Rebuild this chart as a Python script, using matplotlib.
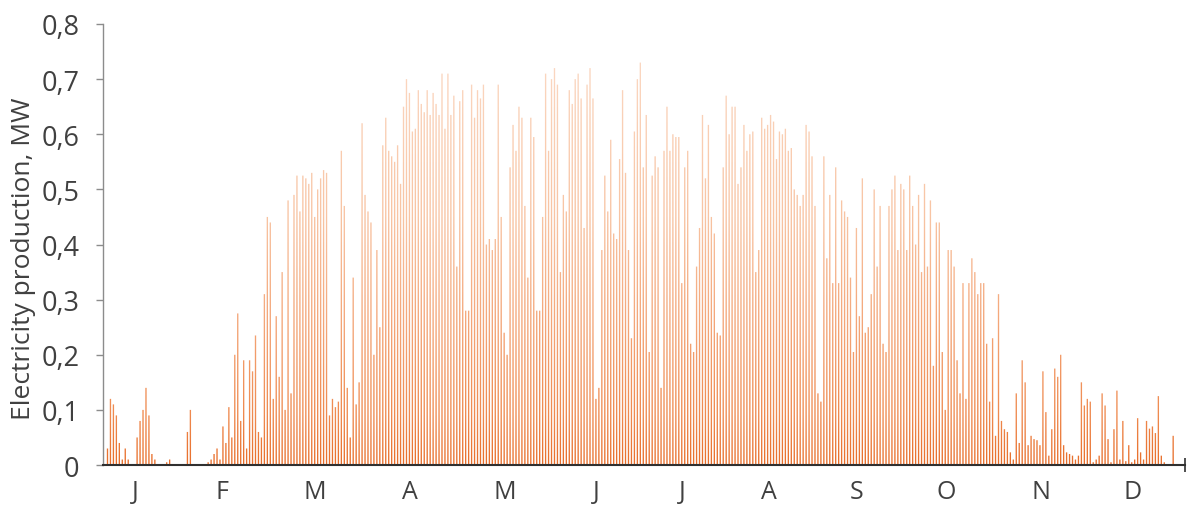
import matplotlib
matplotlib.use("Agg")
import matplotlib.pyplot as plt
import numpy as np
from matplotlib.path import Path
from matplotlib.colors import LinearSegmentedColormap

plt.rcParams['font.family'] = ['Open Sans', 'DejaVu Sans']

# daily peak production (MW), Jan 1 -> Dec 31
jan = [0.0, 0.03, 0.12, 0.11, 0.09, 0.04, 0.01, 0.03, 0.01, 0.0, 0.0, 0.05, 0.08, 0.10, 0.14, 0.09,
       0.02, 0.01, 0.0, 0.0, 0.0, 0.005, 0.01, 0.0, 0.0, 0.0, 0.0, 0.0, 0.06, 0.10, 0.0]
feb = [0.0, 0.0, 0.0, 0.0, 0.005, 0.01, 0.02, 0.03, 0.01, 0.07, 0.04, 0.105, 0.05, 0.2, 0.275, 0.08,
       0.19, 0.03, 0.19, 0.17, 0.235, 0.06, 0.05, 0.31, 0.45, 0.44, 0.12, 0.27, 0.16, 0.35, 0.1, 0.48]
mar = [0.13, 0.49, 0.525, 0.46, 0.525, 0.52, 0.51, 0.53, 0.45, 0.50, 0.52, 0.535, 0.53, 0.09, 0.12, 0.105,
       0.115, 0.57, 0.47, 0.14, 0.05, 0.34, 0.11, 0.15, 0.62, 0.49, 0.46, 0.44, 0.2, 0.39, 0.25, 0.58]
apr = [0.63, 0.57, 0.56, 0.55, 0.58, 0.51, 0.65, 0.70, 0.675, 0.605, 0.61, 0.68, 0.655, 0.64, 0.68, 0.635,
       0.675, 0.655, 0.635, 0.71, 0.61, 0.71, 0.635, 0.67, 0.36, 0.66, 0.68, 0.28, 0.28, 0.69, 0.63, 0.68]
may = [0.665, 0.69, 0.40, 0.41, 0.39, 0.41, 0.69, 0.45, 0.24, 0.2, 0.54, 0.617, 0.57, 0.65, 0.63, 0.47,
       0.34, 0.63, 0.595, 0.28, 0.28, 0.45, 0.71, 0.57, 0.70, 0.72, 0.69, 0.35, 0.49, 0.46, 0.68, 0.655]
jun = [0.70, 0.71, 0.665, 0.43, 0.69, 0.72, 0.665, 0.12, 0.14, 0.39, 0.525, 0.46, 0.59, 0.42, 0.41, 0.555,
       0.68, 0.53, 0.39, 0.23, 0.605, 0.70, 0.73, 0.54, 0.635, 0.205, 0.525, 0.56, 0.54, 0.14, 0.57, 0.65]
jul = [0.57, 0.60, 0.595, 0.595, 0.33, 0.54, 0.57, 0.22, 0.205, 0.36, 0.43, 0.635, 0.52, 0.617, 0.45, 0.42,
       0.24, 0.235, 0.54, 0.67, 0.60, 0.65, 0.65, 0.51, 0.54, 0.617, 0.57, 0.60, 0.605, 0.35, 0.39, 0.63]
aug = [0.61, 0.617, 0.635, 0.623, 0.555, 0.605, 0.60, 0.61, 0.57, 0.575, 0.50, 0.49, 0.47, 0.49, 0.617, 0.605,
       0.56, 0.47, 0.13, 0.115, 0.56, 0.375, 0.49, 0.33, 0.54, 0.33, 0.48, 0.46, 0.45, 0.34, 0.205, 0.43]
sep = [0.27, 0.52, 0.24, 0.25, 0.31, 0.50, 0.36, 0.47, 0.22, 0.205, 0.47, 0.50, 0.525, 0.39, 0.51, 0.50,
       0.39, 0.525, 0.47, 0.40, 0.49, 0.35, 0.51, 0.36, 0.48, 0.18, 0.44, 0.44, 0.205, 0.10, 0.39, 0.39]
octo = [0.36, 0.19, 0.13, 0.33, 0.12, 0.33, 0.375, 0.35, 0.31, 0.33, 0.33, 0.22, 0.115, 0.23, 0.053, 0.31,
        0.08, 0.065, 0.06, 0.023, 0.01, 0.13, 0.04, 0.19, 0.15, 0.036, 0.053, 0.047, 0.045, 0.036, 0.17, 0.096]
novdec = [0.017, 0.065, 0.175, 0.16, 0.20, 0.036, 0.023, 0.02, 0.017, 0.01, 0.017, 0.15, 0.108, 0.12, 0.115,
          0.005, 0.01, 0.017, 0.13, 0.108, 0.047, 0.005, 0.065, 0.135, 0.01, 0.08, 0.007, 0.036, 0.005, 0.01,
          0.085, 0.023, 0.01, 0.08, 0.066, 0.07, 0.058, 0.125, 0.017, 0.005, 0.0, 0.0, 0.053, 0.0, 0.0, 0.0]

peaks = np.array(jan + feb + mar + apr + may + jun + jul + aug + sep + octo + novdec)
days = np.arange(len(peaks))

month_labels = ['J', 'F', 'M', 'A', 'M', 'J', 'J', 'A', 'S', 'O', 'N', 'D']
month_pos = [10.8, 40.1, 71.5, 103.5, 135.6, 166.6, 195.6, 225.0, 254.6, 284.9, 316.9, 347.9]
y_ticks = [0, 0.1, 0.2, 0.3, 0.4, 0.5, 0.6, 0.7, 0.8]

fig = plt.figure(figsize=(11.9, 5.06), dpi=100)
ax = fig.add_axes([0.0866, 0.079, 0.9092, 0.8716])

xmax = 365.5
bars = ax.bar(days + 0.5, peaks, width=0.45, color='none', linewidth=0)

# orange gradient: saturated near zero, pale towards the peaks
cmap = LinearSegmentedColormap.from_list('sun', [(0.0, '#e86e2a'), (0.12, '#ef8a4f'),
                                                 (0.35, '#f4a77a'), (0.6, '#f8c4a3'),
                                                 (1.0, '#fbd9c4')])
grad = np.linspace(0, 1, 256).reshape(-1, 1)
im = ax.imshow(grad, cmap=cmap, origin='lower', aspect='auto', extent=[0, xmax, 0, 0.75], zorder=2)
paths = [b.get_path().transformed(b.get_patch_transform()) for b in bars]
im.set_clip_path(Path.make_compound_path(*paths), ax.transData)

ax.set_xlim(0, xmax)
ax.set_ylim(0, 0.8)

ax.set_yticks(y_ticks)
ax.set_yticklabels([('%.1f' % v).replace('.', ',') if v else '0' for v in y_ticks])
ax.set_xticks(month_pos)
ax.set_xticklabels(month_labels)
ax.set_xticks([xmax], minor=True)

ax.tick_params(axis='y', length=5, width=1, color='#8c8c8c', pad=12, labelsize=19.5, labelcolor='#404040')
ax.tick_params(axis='x', which='major', length=0, pad=10, labelsize=18, labelcolor='#404040')
ax.tick_params(axis='x', which='minor', direction='inout', length=10, width=1.2, color='#303030')

for s in ['top', 'right']:
    ax.spines[s].set_visible(False)
ax.spines['left'].set_color('#8c8c8c')
ax.spines['left'].set_linewidth(1)
ax.spines['bottom'].set_color('#303030')
ax.spines['bottom'].set_linewidth(1.5)

ax.set_ylabel('Electricity production, MW', fontsize=19, color='#404040')
ax.yaxis.set_label_coords(-0.062, 0.47)

fig.savefig('out.png', dpi=100)
